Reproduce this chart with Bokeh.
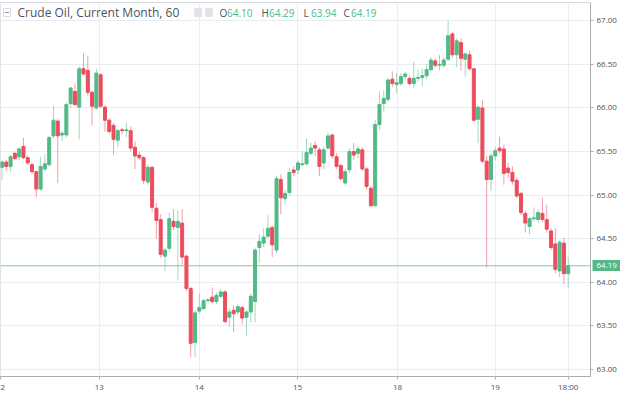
from bokeh.plotting import figure
from bokeh.models import (Range1d, FixedTicker, SingleIntervalTicker, PrintfTickFormatter,
                          Span, Label, BoxAnnotation, ColumnDataSource, LinearAxis)
from bokeh.embed import file_html
from bokeh.resources import INLINE

# ---- data: hourly crude oil candles (Current Month, 60) ----
open_ = [
    65.32, 65.38, 65.33, 65.48, 65.44, 65.56, 65.43, 65.35, 65.27, 65.07,
    65.30, 65.35, 65.68, 65.85, 65.69, 65.69, 66.05, 66.19, 66.01, 66.45,
    66.43, 66.18, 66.00, 66.38, 66.01, 65.86, 65.80, 65.63, 65.75, 65.74,
    65.74, 65.55, 65.46, 65.43, 65.15, 65.32, 64.85, 64.72, 64.30, 64.39,
    64.70, 64.63, 64.68, 64.30, 63.93, 63.31, 63.67, 63.70, 63.79, 63.83,
    63.78, 63.84, 63.89, 63.60, 63.68, 63.66, 63.71, 63.60, 63.66, 63.78,
    64.40, 64.45, 64.53, 64.63, 64.37, 65.18, 64.96, 65.03, 65.29, 65.29,
    65.35, 65.36, 65.48, 65.57, 65.52, 65.37, 65.54, 65.69, 65.44, 65.34,
    65.14, 65.29, 65.50, 65.48, 65.52, 65.30, 65.08, 64.88, 65.81, 66.05,
    66.10, 66.33, 66.27, 66.28, 66.36, 66.34, 66.28, 66.34, 66.35, 66.37,
    66.44, 66.54, 66.49, 66.49, 66.56, 66.85, 66.61, 66.75, 66.56, 66.61,
    66.45, 65.87, 66.00, 65.39, 65.18, 65.45, 65.54, 65.53, 65.31, 65.26,
    65.17, 65.02, 64.79, 64.64, 64.73, 64.72, 64.79, 64.72, 64.59, 64.44,
    64.13, 64.45, 64.10]
high = [
    65.40, 65.40, 65.46, 65.50, 65.55, 65.66, 65.46, 65.38, 65.28, 65.44,
    65.47, 65.68, 66.02, 65.87, 65.74, 66.06, 66.24, 66.28, 66.48, 66.63,
    66.60, 66.20, 66.45, 66.40, 66.03, 65.88, 65.83, 65.76, 65.77, 65.83,
    65.79, 65.62, 65.50, 65.45, 65.35, 65.33, 64.91, 64.78, 64.40, 64.80,
    64.84, 64.82, 64.84, 64.32, 63.95, 63.68, 63.87, 63.81, 63.82, 63.94,
    63.88, 63.92, 63.91, 63.70, 63.74, 63.75, 63.73, 63.68, 63.87, 64.40,
    64.55, 64.62, 64.77, 64.65, 65.22, 65.24, 65.06, 65.31, 65.33, 65.40,
    65.50, 65.65, 65.60, 65.62, 65.55, 65.56, 65.72, 65.71, 65.48, 65.36,
    65.30, 65.54, 65.60, 65.57, 65.55, 65.32, 65.10, 65.86, 66.19, 66.20,
    66.35, 66.42, 66.40, 66.40, 66.42, 66.37, 66.53, 66.44, 66.45, 66.50,
    66.58, 66.57, 66.61, 66.58, 67.00, 66.87, 66.80, 66.80, 66.64, 66.66,
    66.46, 66.03, 66.09, 65.45, 65.48, 65.55, 65.67, 65.58, 65.37, 65.33,
    65.20, 65.04, 64.82, 64.75, 64.86, 64.84, 64.97, 64.89, 64.62, 64.62,
    64.48, 64.51, 64.29]
low = [
    65.17, 65.28, 65.27, 65.40, 65.40, 65.41, 65.35, 65.24, 64.98, 65.05,
    65.28, 65.33, 65.65, 65.14, 65.62, 65.66, 66.00, 66.02, 65.64, 66.37,
    66.14, 65.80, 65.98, 66.00, 65.73, 65.70, 65.46, 65.55, 65.70, 65.66,
    65.50, 65.30, 65.40, 65.13, 65.12, 64.80, 64.50, 64.28, 64.13, 64.35,
    64.60, 64.02, 64.20, 63.90, 63.14, 63.14, 63.64, 63.68, 63.77, 63.76,
    63.75, 63.82, 63.53, 63.49, 63.43, 63.63, 63.52, 63.39, 63.54, 63.54,
    64.23, 64.40, 64.50, 64.29, 64.33, 64.78, 64.89, 65.00, 65.22, 65.24,
    65.33, 65.34, 65.46, 65.45, 65.22, 65.30, 65.52, 65.42, 65.30, 65.16,
    65.12, 65.25, 65.40, 65.42, 65.28, 65.06, 64.87, 64.86, 65.75, 65.96,
    66.07, 66.24, 66.17, 66.25, 66.33, 66.26, 66.23, 66.30, 66.25, 66.33,
    66.42, 66.46, 66.43, 66.46, 66.54, 66.58, 66.47, 66.43, 66.36, 66.43,
    65.84, 65.60, 65.37, 64.17, 65.05, 65.40, 65.48, 65.12, 65.20, 65.12,
    64.96, 64.77, 64.57, 64.55, 64.70, 64.68, 64.69, 64.57, 64.37, 64.10,
    64.06, 63.98, 63.94]
close = [
    65.38, 65.33, 65.44, 65.42, 65.53, 65.43, 65.37, 65.27, 65.07, 65.33,
    65.36, 65.66, 65.86, 65.68, 65.71, 66.04, 66.23, 66.04, 66.45, 66.39,
    66.18, 66.02, 66.40, 66.02, 65.86, 65.73, 65.64, 65.74, 65.74, 65.75,
    65.54, 65.45, 65.43, 65.17, 65.32, 64.86, 64.71, 64.32, 64.37, 64.73,
    64.64, 64.70, 64.29, 63.93, 63.30, 63.65, 63.71, 63.79, 63.80, 63.78,
    63.85, 63.89, 63.55, 63.66, 63.64, 63.72, 63.59, 63.66, 63.84, 64.37,
    64.47, 64.52, 64.62, 64.43, 65.19, 64.97, 65.02, 65.26, 65.26, 65.37,
    65.36, 65.49, 65.54, 65.54, 65.33, 65.52, 65.68, 65.45, 65.33, 65.19,
    65.27, 65.50, 65.46, 65.53, 65.30, 65.10, 64.88, 65.81, 66.04, 66.11,
    66.32, 66.28, 66.29, 66.36, 66.39, 66.28, 66.34, 66.35, 66.37, 66.44,
    66.55, 66.49, 66.50, 66.55, 66.83, 66.61, 66.77, 66.57, 66.62, 66.45,
    65.86, 66.01, 65.39, 65.18, 65.45, 65.51, 65.51, 65.25, 65.26, 65.16,
    64.99, 64.80, 64.68, 64.73, 64.74, 64.80, 64.72, 64.61, 64.40, 64.15,
    64.46, 64.10, 64.19]

day_tick_pos = [-0.3, 22.7, 46.0, 68.9, 92.2, 115.0, 132.0]
day_tick_labels = ["2", "13", "14", "15", "18", "19", "18:00"]
last_price = 64.19
header_title = "Crude Oil, Current Month, 60"
ohlc_letters = ["O", "H", "L", "C"]
ohlc_values = ["64.10", "64.29", "63.94", "64.19"]

UP = "#53b987"
DOWN = "#eb4d5c"
TXT = "#4c525e"
FONT = "Open Sans"

idx = list(range(len(close)))
colors = [UP if c >= o else DOWN for o, c in zip(open_, close)]
src = ColumnDataSource(dict(
    x=idx, o=open_, h=high, l=low, c=close, color=colors,
    top=[max(o, c) for o, c in zip(open_, close)],
    bot=[min(o, c) for o, c in zip(open_, close)],
))

W, H = 620, 394
TB, RB, BB = 2, 30, 16
FH = H - TB - BB
X0, X1 = -0.35, 137.2

p = figure(width=W, height=H, output_backend="svg", toolbar_location=None,
           x_range=Range1d(X0, X1), y_range=Range1d(62.92, 67.21),
           y_axis_location="right", min_border_left=0, min_border_top=TB,
           min_border_right=RB, min_border_bottom=BB)
p.background_fill_color = "white"
p.border_fill_color = "white"
p.outline_line_color = "#d6dbe1"

p.xaxis.ticker = FixedTicker(ticks=day_tick_pos)
p.xaxis.major_label_overrides = {t: s for t, s in zip(day_tick_pos, day_tick_labels)}
p.yaxis.ticker = SingleIntervalTicker(interval=0.5, num_minor_ticks=0)
p.yaxis.formatter = PrintfTickFormatter(format="%.2f")
p.xgrid.grid_line_color = "#e9edf2"
p.ygrid.grid_line_color = "#e9edf2"

for ax in (p.xaxis, p.yaxis):
    ax.axis_line_color = "#a9adb4"
    ax.major_tick_line_color = "#a9adb4"
    ax.major_tick_out = 3
    ax.major_tick_in = 0
    ax.minor_tick_line_color = None
    ax.major_label_text_font = FONT
    ax.major_label_text_font_size = "8px"
    ax.major_label_text_color = TXT
p.yaxis.major_label_standoff = 3
p.xaxis.major_label_standoff = 1

# last price tag: an extra price axis with one tick, drawn back over the main price axis
tag_axis = LinearAxis(ticker=FixedTicker(ticks=[last_price]),
                      formatter=PrintfTickFormatter(format="%.2f"),
                      axis_line_color=None, minor_tick_line_color=None,
                      major_tick_line_color=UP, major_tick_line_width=11,
                      major_tick_in=27, major_tick_out=1,
                      major_label_standoff=-24,
                      major_label_text_font=FONT, major_label_text_font_size="8px",
                      major_label_text_color="white")
p.add_layout(tag_axis, "right")

# current price line
p.add_layout(Span(location=last_price, dimension="width", line_color=UP,
                  line_width=1, line_alpha=0.75))

# candles
p.segment(x0="x", y0="l", x1="x", y1="h", color="color", line_alpha=0.55,
          line_width=1, source=src)
p.vbar(x="x", width=0.7, top="top", bottom="bot", fill_color="color",
       line_color="color", line_width=1, source=src)

# header legend
hy = FH - 12
p.add_layout(BoxAnnotation(left=3, right=10, bottom=hy - 4, top=hy + 4,
                           left_units="screen", right_units="screen",
                           bottom_units="screen", top_units="screen",
                           fill_alpha=0, line_color="#8a8f98", line_width=1))
p.add_layout(BoxAnnotation(left=4.5, right=8.5, bottom=hy - 0.5, top=hy + 0.5,
                           left_units="screen", right_units="screen",
                           bottom_units="screen", top_units="screen",
                           fill_color="#8a8f98", fill_alpha=1, line_alpha=0))
p.add_layout(Label(x=17, y=hy, x_units="screen", y_units="screen", text=header_title,
                   text_font=FONT, text_font_size="12px", text_color=TXT,
                   text_baseline="middle"))
for lx in (194, 205):
    p.add_layout(BoxAnnotation(left=lx, right=lx + 7, bottom=hy - 4, top=hy + 4,
                               left_units="screen", right_units="screen",
                               bottom_units="screen", top_units="screen",
                               fill_color="#dfe2e6", fill_alpha=1,
                               line_color="#c9cdd2", line_width=1))
letter_x = [219, 261, 303, 343]
for lx, letter, val in zip(letter_x, ohlc_letters, ohlc_values):
    p.add_layout(Label(x=lx, y=hy, x_units="screen", y_units="screen", text=letter,
                       text_font=FONT, text_font_size="10px", text_color=TXT,
                       text_baseline="middle"))
    p.add_layout(Label(x=lx + 7.5, y=hy, x_units="screen", y_units="screen", text=val,
                       text_font=FONT, text_font_size="10px", text_color=UP,
                       text_baseline="middle"))

open("out.html", "w").write(file_html(p, INLINE))
